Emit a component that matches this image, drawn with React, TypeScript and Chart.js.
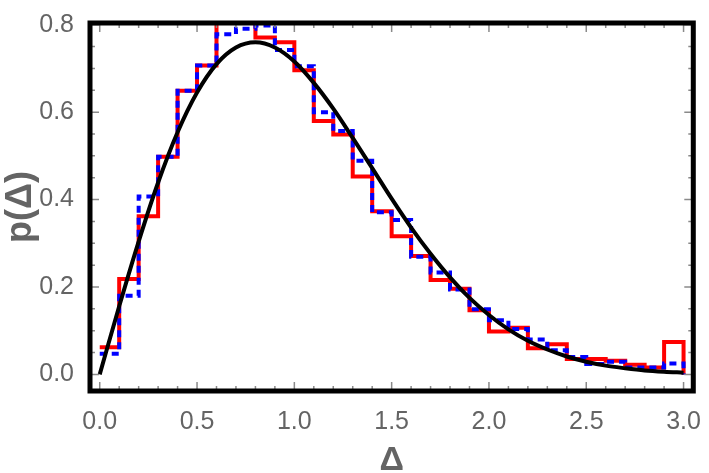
import React, { useEffect, useRef } from "react";
import { Chart, registerables } from "chart.js";

Chart.register(...registerables);

// Histogram bin left edges (bin width 0.1)
const binEdges = [
  0.0, 0.1, 0.2, 0.3, 0.4, 0.5, 0.6, 0.7, 0.8, 0.9,
  1.0, 1.1, 1.2, 1.3, 1.4, 1.5, 1.6, 1.7, 1.8, 1.9,
  2.0, 2.1, 2.2, 2.3, 2.4, 2.5, 2.6, 2.7, 2.8, 2.9,
];
const binEnd = 3.0;

// Red solid histogram
const redHeights = [
  0.062, 0.218, 0.362, 0.498, 0.649, 0.707, 0.81, 0.81, 0.771, 0.76,
  0.696, 0.58, 0.549, 0.453, 0.373, 0.316, 0.271, 0.216, 0.196, 0.147,
  0.098, 0.107, 0.06, 0.069, 0.035, 0.035, 0.031, 0.022, 0.016, 0.074,
];

// Blue dashed histogram
const blueHeights = [
  0.047, 0.18, 0.407, 0.498, 0.649, 0.707, 0.778, 0.791, 0.798, 0.742,
  0.705, 0.6, 0.557, 0.489, 0.371, 0.353, 0.269, 0.233, 0.194, 0.149,
  0.124, 0.104, 0.08, 0.055, 0.04, 0.024, 0.029, 0.016, 0.016, 0.025,
];

// Black smooth curve
const curveX = [
  0.0, 0.1, 0.2, 0.3, 0.4, 0.5, 0.6, 0.7, 0.8, 0.9, 1.0,
  1.1, 1.2, 1.3, 1.4, 1.5, 1.6, 1.7, 1.8, 1.9, 2.0,
  2.1, 2.2, 2.3, 2.4, 2.5, 2.6, 2.7, 2.8, 2.9, 3.0,
];
const curveY = [
  0.0, 0.156, 0.304, 0.439, 0.554, 0.645, 0.71, 0.748, 0.76, 0.748, 0.716,
  0.667, 0.608, 0.541, 0.472, 0.402, 0.336, 0.276, 0.222, 0.175, 0.136,
  0.103, 0.077, 0.057, 0.041, 0.029, 0.02, 0.014, 0.009, 0.006, 0.004,
];

const xTickValues = [0, 0.5, 1.0, 1.5, 2.0, 2.5, 3.0];
const yTickValues = [0, 0.2, 0.4, 0.6, 0.8];
const xMinorCount = 30; // minor ticks every 0.1
const yMinorCount = 16; // minor ticks every 0.05

const GRAY = "#646464";
const FONT = "'Liberation Sans', Arial, sans-serif";

function stepPoints(heights: number[]) {
  const pts = heights.map((h, i) => ({ x: binEdges[i], y: h }));
  pts.push({ x: binEnd, y: heights[heights.length - 1] });
  pts.push({ x: binEnd, y: 0 });
  return pts;
}

const framePlugin = {
  id: "frameTicks",
  afterDatasetsDraw(chart: any) {
    const { ctx, chartArea: a, scales } = chart;
    const xs = scales.x;
    const ys = scales.y;
    ctx.save();
    ctx.strokeStyle = "#8a8a8a";
    ctx.lineWidth = 1.5;
    ctx.beginPath();
    for (let i = 0; i <= xMinorCount; i++) {
      const v = i / 10;
      const px = xs.getPixelForValue(v);
      const len = i % 5 === 0 ? 9 : 5;
      ctx.moveTo(px, a.bottom);
      ctx.lineTo(px, a.bottom - len);
      ctx.moveTo(px, a.top);
      ctx.lineTo(px, a.top + len);
    }
    for (let i = 0; i <= yMinorCount; i++) {
      const v = i / 20;
      const py = ys.getPixelForValue(v);
      const len = i % 4 === 0 ? 9 : 5;
      ctx.moveTo(a.left, py);
      ctx.lineTo(a.left + len, py);
      ctx.moveTo(a.right, py);
      ctx.lineTo(a.right - len, py);
    }
    ctx.stroke();
    ctx.strokeStyle = "#000";
    ctx.lineWidth = 5;
    ctx.strokeRect(a.left, a.top, a.right - a.left, a.bottom - a.top);
    ctx.restore();
  },
};

export default function App() {
  const ref = useRef<HTMLCanvasElement | null>(null);

  useEffect(() => {
    if (!ref.current) return;
    const chart = new Chart(ref.current, {
      type: "line",
      data: {
        datasets: [
          {
            label: "curve",
            data: curveX.map((x, i) => ({ x, y: curveY[i] })),
            borderColor: "#000",
            borderWidth: 4,
            pointRadius: 0,
            fill: false,
            cubicInterpolationMode: "monotone",
            clip: 0,
          },
          {
            label: "blue",
            data: stepPoints(blueHeights),
            borderColor: "#0000ff",
            borderWidth: 4,
            borderDash: [7, 5],
            pointRadius: 0,
            fill: false,
            stepped: "before",
            clip: 0,
          },
          {
            label: "red",
            data: stepPoints(redHeights),
            borderColor: "#ff0000",
            borderWidth: 4,
            pointRadius: 0,
            fill: false,
            stepped: "before",
            clip: 0,
          },
        ] as any,
      },
      options: {
        animation: false,
        responsive: false,
        events: [],
        layout: { padding: { left: 0, top: 13, right: 4, bottom: 0 } },
        plugins: {
          legend: { display: false },
          tooltip: { enabled: false },
        },
        scales: {
          x: {
            type: "linear",
            min: -0.05,
            max: 3.05,
            afterBuildTicks: (s: any) => {
              s.ticks = xTickValues.map((v) => ({ value: v }));
            },
            afterFit: (s: any) => {
              s.height = 82;
            },
            grid: { display: false },
            border: { display: false },
            ticks: {
              autoSkip: false,
              maxRotation: 0,
              padding: 8,
              color: GRAY,
              font: { family: FONT, size: 25 },
              callback: (v: any) => Number(v).toFixed(1),
            },
            title: {
              display: true,
              text: "Δ",
              color: GRAY,
              font: { family: FONT, size: 34, weight: "bold", lineHeight: 0.75 },
              padding: { top: 0, bottom: 0 },
            },
          },
          y: {
            type: "linear",
            min: -0.038,
            max: 0.804,
            afterBuildTicks: (s: any) => {
              s.ticks = yTickValues.map((v) => ({ value: v }));
            },
            afterFit: (s: any) => {
              s.width = 90;
            },
            grid: { display: false },
            border: { display: false },
            ticks: {
              autoSkip: false,
              padding: 8,
              color: GRAY,
              font: { family: FONT, size: 25 },
              callback: (v: any) => Number(v).toFixed(1),
            },
            title: {
              display: true,
              text: "p(Δ)",
              color: GRAY,
              font: { family: FONT, size: 36, weight: "bold", lineHeight: 1 },
              padding: { top: 3, bottom: 0 },
            },
          },
        },
      },
      plugins: [framePlugin],
    });
    return () => chart.destroy();
  }, []);

  return (
    <div style={{ position: "fixed", left: 0, top: 0, width: 709, height: 473, background: "#fff" }}>
      <canvas ref={ref} width={709} height={473} style={{ width: 709, height: 473 }} />
    </div>
  );
}
